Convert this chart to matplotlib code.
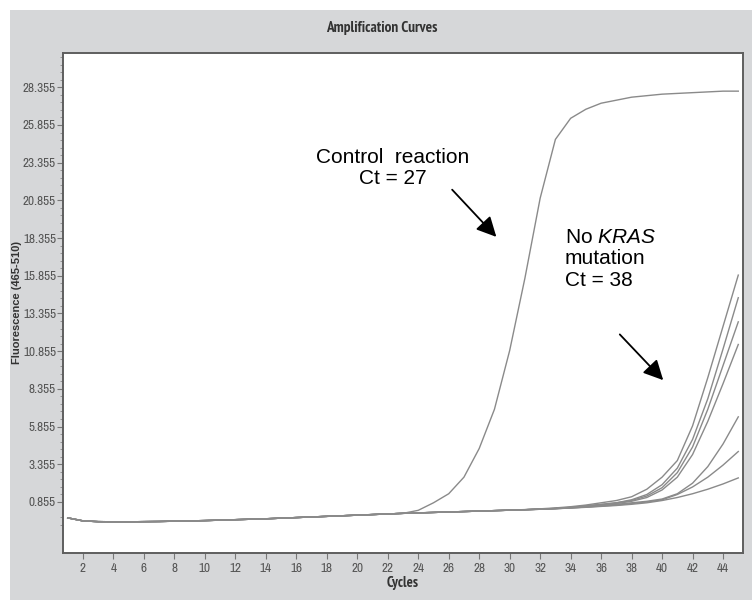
import os
import numpy as np
import matplotlib
matplotlib.use("Agg")
import matplotlib.pyplot as plt
from matplotlib import font_manager
from matplotlib.font_manager import FontProperties
from matplotlib.patches import Rectangle
from matplotlib.ticker import FixedLocator

# Fonts: narrow face for ticks, Arial-like for the notes
plt.rcParams["font.family"] = ["Liberation Sans", "DejaVu Sans"]
plt.rcParams["mathtext.fontset"] = "custom"
plt.rcParams["mathtext.rm"] = "Liberation Sans"
plt.rcParams["mathtext.it"] = "Liberation Sans:italic"


def narrow_font(bold):
    found = {}
    for f in font_manager.fontManager.ttflist:
        fn = os.path.basename(f.fname).lower()
        if ("bold" in fn) != bold or "oblique" in fn or "italic" in fn:
            continue
        for key in ("narrow", "condensed"):
            if key in fn and key not in found:
                found[key] = f.fname
    return found.get("narrow") or found.get("condensed"), "narrow" in found


narrow_regular, has_narrow = narrow_font(False)
narrow_bold, _ = narrow_font(True)
shrink = 1.0 if has_narrow else 0.8


def fp(size, bold=False):
    path = narrow_bold if bold else narrow_regular
    if path:
        return FontProperties(fname=path, size=size * shrink)
    return FontProperties(family="Liberation Sans", size=size * 0.8,
                          weight="bold" if bold else "normal")


# Data
cycles = list(range(1, 46))
y_ticks = [0.855, 3.355, 5.855, 8.355, 10.855, 13.355, 15.855, 18.355,
           20.855, 23.355, 25.855, 28.355]
x_ticks = list(range(2, 45, 2))

# shared flat start, cycles 1-23
baseline = [-0.2, -0.4, -0.45, -0.46, -0.46, -0.45, -0.44, -0.42, -0.4, -0.38,
            -0.35, -0.32, -0.29, -0.26, -0.22, -0.18, -0.14, -0.1, -0.06, -0.02,
            0.02, 0.06, 0.1]

# cycles 24-45 for each curve
control = [0.3, 0.8, 1.4, 2.5, 4.4, 7.0, 10.9, 15.7, 21.0, 24.9, 26.3, 26.9,
           27.3, 27.5, 27.7, 27.8, 27.9, 27.95, 28.0, 28.05, 28.1, 28.1]
sample_a = [0.13, 0.16, 0.19, 0.22, 0.25, 0.28, 0.31, 0.35, 0.4, 0.46, 0.54, 0.65,
            0.8, 0.95, 1.2, 1.7, 2.5, 3.6, 5.9, 9.1, 12.5, 15.9]
sample_b = [0.13, 0.16, 0.19, 0.22, 0.25, 0.28, 0.31, 0.34, 0.38, 0.43, 0.5, 0.6,
            0.7, 0.8, 1.0, 1.35, 2.0, 3.1, 5.0, 7.7, 11.0, 14.4]
sample_c = [0.13, 0.16, 0.19, 0.22, 0.25, 0.28, 0.31, 0.34, 0.38, 0.42, 0.49, 0.58,
            0.68, 0.8, 0.95, 1.25, 1.8, 2.8, 4.5, 7.0, 9.9, 12.8]
sample_d = [0.13, 0.16, 0.19, 0.22, 0.25, 0.28, 0.31, 0.34, 0.38, 0.42, 0.48, 0.56,
            0.65, 0.75, 0.9, 1.15, 1.65, 2.5, 4.0, 6.2, 8.7, 11.3]
sample_e = [0.13, 0.16, 0.19, 0.22, 0.25, 0.28, 0.31, 0.34, 0.37, 0.41, 0.46, 0.52,
            0.6, 0.7, 0.8, 0.9, 1.05, 1.4, 2.1, 3.2, 4.7, 6.5]
sample_f = [0.13, 0.16, 0.19, 0.22, 0.25, 0.28, 0.31, 0.34, 0.37, 0.41, 0.46, 0.52,
            0.58, 0.65, 0.75, 0.85, 1.0, 1.35, 1.85, 2.5, 3.3, 4.2]
sample_g = [0.13, 0.16, 0.19, 0.22, 0.25, 0.28, 0.31, 0.34, 0.37, 0.41, 0.45, 0.5,
            0.56, 0.62, 0.7, 0.8, 0.95, 1.15, 1.4, 1.7, 2.05, 2.45]

curves = [control, sample_a, sample_b, sample_c, sample_d, sample_e, sample_f, sample_g]

fig = plt.figure(figsize=(7.52, 6.0), dpi=100)
fig.patch.set_facecolor("white")
fig.patches.append(Rectangle((10 / 752, 0), 1, (600 - 10) / 600,
                             transform=fig.transFigure, facecolor="#d6d7d9",
                             edgecolor="none", zorder=-10))

ax = fig.add_axes([63 / 752, 47 / 600, 680 / 752, 500 / 600])
ax.set_facecolor("white")

for tail in curves:
    values = baseline + tail
    ax.plot(cycles, values, color="#8a8a8a", lw=1.0)

ax.set_xlim(0.69, 45.31)
ax.set_ylim(-2.53, 30.63)

ax.xaxis.set_major_locator(FixedLocator(x_ticks))
ax.yaxis.set_major_locator(FixedLocator(y_ticks))
ax.yaxis.set_minor_locator(FixedLocator([t + d for t in y_ticks[:-1] for d in (0.5, 1.0, 1.5, 2.0)]
                                        + [-0.145, -0.645, 28.855, 29.355, 29.855, 30.355]))
ax.set_xticklabels([str(t) for t in x_ticks])
ax.set_yticklabels(["%.3f" % t for t in y_ticks])
ax.tick_params(axis="both", which="major", direction="out", length=4, width=0.8,
               color="#777777", labelcolor="#555555")
ax.tick_params(axis="y", which="minor", direction="out", length=2, width=0.6, color="#888888")
for lab in ax.get_xticklabels() + ax.get_yticklabels():
    lab.set_fontproperties(fp(9.5))
ax.tick_params(axis="y", pad=1)
ax.tick_params(axis="x", pad=3)
ax.spines[["top", "right", "left", "bottom"]].set_color("#5e5e5e")
ax.spines[["top", "right", "left", "bottom"]].set_linewidth(1.4)

fig.text(0.507, 0.953, "Amplification Curves", ha="center", va="center",
         fontproperties=fp(11, True), color="#333333")
fig.text(0.536, 0.028, "Cycles", ha="center", va="center",
         fontproperties=fp(10.5, True), color="#333333")
fig.text(0.022, 0.495, "Fluorescence (465-510)", ha="center", va="center",
         rotation=90, fontsize=8, fontweight="bold", color="#333333")

# Annotations
ax.text(22.3, 23.0, "Control  reaction\nCt = 27", ha="center", va="center",
        fontsize=15, color="black", linespacing=1.15)
ax.annotate("", xy=(29.25, 18.3), xytext=(26.1, 21.7),
            arrowprops=dict(arrowstyle="-|>,head_length=1.2,head_width=0.6",
                            color="black", lw=1.3))
ax.text(33.6, 16.97, "No $\\mathit{KRAS}$\nmutation\nCt = 38", ha="left", va="center",
        fontsize=15, color="black", linespacing=1.15)
ax.annotate("", xy=(40.2, 8.8), xytext=(37.1, 12.1),
            arrowprops=dict(arrowstyle="-|>,head_length=1.2,head_width=0.6",
                            color="black", lw=1.3))

fig.savefig("out.png", dpi=100)
